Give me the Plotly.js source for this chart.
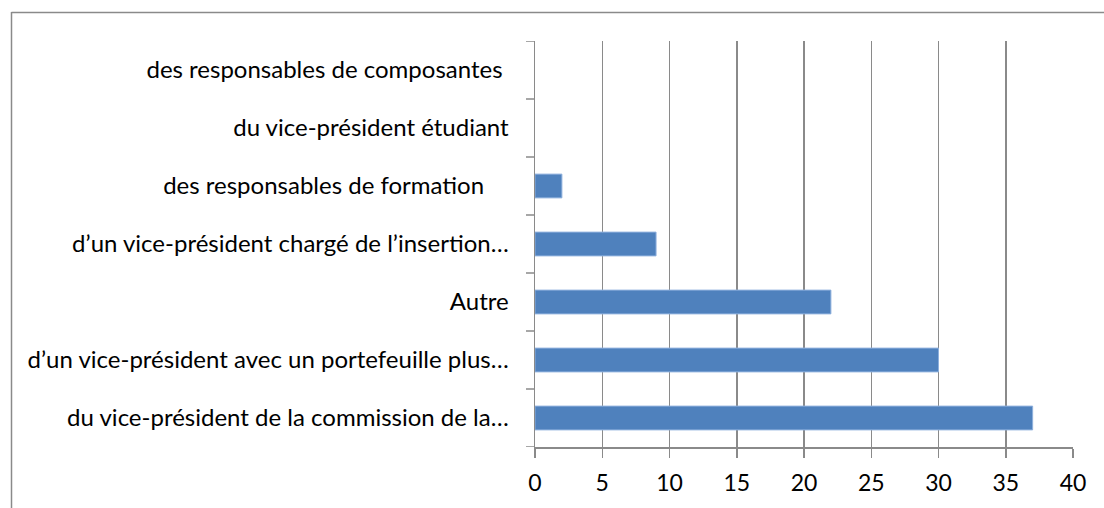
<!DOCTYPE html>
<html>
<head>
<meta charset="utf-8">
<script src="https://cdn.plot.ly/plotly-3.0.1.min.js"></script>
<style>
html,body{margin:0;padding:0;background:#fff;}
#chart{width:1104px;height:508px;}
</style>
</head>
<body>
<div id="chart"></div>
<script>
var categories = [
  "du vice-président de la commission de la…",
  "d’un vice-président avec un portefeuille plus…",
  "Autre",
  "d’un vice-président chargé de l’insertion…",
  "des responsables de formation\u00A0\u00A0\u00A0\u00A0",
  "du vice-président étudiant",
  "des responsables de composantes\u00A0"
];
var values = [37, 30, 22, 9, 2, 0, 0];
var xTicks = [0, 5, 10, 15, 20, 25, 30, 35, 40];

var L = 535, R = 31, T = 41, B = 61, W = 1104, H = 508;
var pw = W - L - R, ph = H - T - B;
function px(x){ return (x - L) / pw; }
function py(y){ return (H - B - y) / ph; }

var trace = {
  type: 'bar',
  orientation: 'h',
  y: categories.map(function(c, i){ return i; }),
  x: values,
  width: 0.41,
  marker: {color: '#4F81BD', line: {color: '#8EB0DD', width: values.map(function(v){ return v > 0 ? 1 : 0; })}},
  hoverinfo: 'x+y'
};

var FONT = 'Lato, sans-serif';
var layout = {
  width: W, height: H,
  margin: {l: L, r: R, t: T, b: B, pad: 0},
  paper_bgcolor: '#fff',
  plot_bgcolor: '#fff',
  showlegend: false,
  font: {family: FONT, color: '#000'},
  xaxis: {
    range: [0, 40],
    tickvals: xTicks,
    ticktext: xTicks.map(String),
    showgrid: true, gridcolor: '#8a8a8a', gridwidth: 1.5,
    showline: true, linecolor: '#8a8a8a', linewidth: 1.5,
    ticks: 'outside', ticklen: 9, tickcolor: '#8a8a8a', tickwidth: 1.5,
    tickfont: {size: 23, family: FONT, color: '#000'},
    zeroline: false, fixedrange: true, ticklabelstandoff: 6
  },
  yaxis: {
    range: [-0.5, 6.5],
    tickvals: [0,1,2,3,4,5,6],
    ticktext: categories,
    showgrid: false,
    showline: true, linecolor: '#8a8a8a', linewidth: 1.5,
    ticks: '',
    tickfont: {size: 24, family: FONT, color: '#000'},
    zeroline: false, fixedrange: true, ticklabelstandoff: 20
  },
  shapes: []
};
// category boundary ticks on y axis
for (var k = 0; k <= categories.length; k++) {
  layout.shapes.push({type: 'line', xref: 'paper', yref: 'y',
    x0: px(526), x1: 0, y0: k - 0.5, y1: k - 0.5,
    line: {color: '#8a8a8a', width: 1.5}});
}
// chart border (left and top)
layout.shapes.push({type: 'line', xref: 'paper', yref: 'paper',
  x0: px(11.5), x1: px(11.5), y0: py(12), y1: py(520), line: {color: '#8a8a8a', width: 1.5}});
layout.shapes.push({type: 'line', xref: 'paper', yref: 'paper',
  x0: px(11.5), x1: px(1110), y0: py(12.5), y1: py(12.5), line: {color: '#8a8a8a', width: 1.5}});

Plotly.newPlot('chart', [trace], layout, {displayModeBar: false, staticPlot: true});
</script>
</body>
</html>
